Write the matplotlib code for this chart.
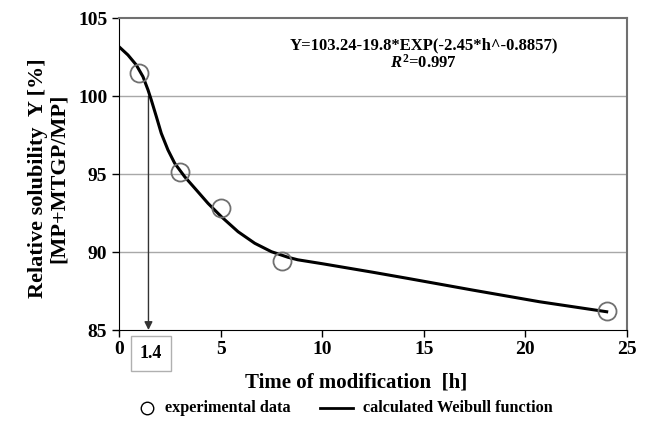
import matplotlib
matplotlib.use("Agg")
import matplotlib.pyplot as plt
from matplotlib.lines import Line2D

# Experimental points
exp_time = [1, 3, 5, 8, 24]
exp_solubility = [101.5, 95.15, 92.8, 89.45, 86.2]

# Calculated Weibull curve as drawn in the figure
fit_time = [0, 0.44, 0.85, 1.18, 1.43, 1.59, 1.84, 2.08, 2.41, 2.74, 3.23,
            3.81, 4.38, 5.04, 5.86, 6.68, 7.5, 8.32, 8.8, 10.0, 11.0, 12.5,
            14.2, 17.4, 20.7, 24]
fit_solubility = [103.16, 102.63, 101.99, 101.24, 100.38, 99.74, 98.67,
                  97.61, 96.54, 95.69, 94.83, 93.97, 93.12, 92.26, 91.3,
                  90.56, 90.02, 89.66, 89.5, 89.25, 89.03, 88.7, 88.31,
                  87.56, 86.81, 86.17]

x_ticks = [0, 5, 10, 15, 20, 25]
y_ticks = [85, 90, 95, 100, 105]

marker_time = 1.45
marker_label = "1.4"
equation = "Y=103.24-19.8*EXP(-2.45*h^-0.8857)"
r2_text = r"$R^{2}$=0.997"
legend_labels = ["experimental data", "calculated Weibull function"]

plt.rcParams['font.family'] = ['Liberation Serif', 'DejaVu Serif']
plt.rcParams['font.weight'] = 'bold'
plt.rcParams['mathtext.fontset'] = 'custom'
plt.rcParams['mathtext.rm'] = 'Liberation Serif:bold'
plt.rcParams['mathtext.it'] = 'Liberation Serif:italic:bold'

W, H = 646, 423
fig = plt.figure(figsize=(W / 100, H / 100), dpi=100)
ax = fig.add_axes([119 / W, 1 - 330 / H, (627 - 119) / W, (330 - 18) / H])

# grid
for y in y_ticks[1:-1]:
    ax.axhline(y, color='#a8a8a8', lw=1.0, zorder=0)

ax.plot(fit_time, fit_solubility, color='black', lw=2.2, zorder=3,
        solid_joinstyle='round')
ax.plot(exp_time, exp_solubility, 'o', ms=13, mfc='none', mec='#707070',
        mew=1.3, zorder=4)

# arrow at 1.4 h
ax.annotate('', xy=(marker_time, 85), xytext=(marker_time, 100),
            arrowprops=dict(arrowstyle='-|>', color='#333333', lw=1.0,
                            mutation_scale=12, shrinkA=0, shrinkB=0),
            zorder=2)

ax.text(15.0, 103.25, equation, ha='center', va='center', fontsize=12,
        fontweight='bold')
ax.text(15.0, 102.1, r2_text, ha='center', va='center', fontsize=12,
        fontweight='bold')

ax.set_xlim(0, 25)
ax.set_ylim(85, 105)
ax.set_xticks(x_ticks)
ax.set_yticks(y_ticks)
ax.tick_params(labelsize=14, direction='out', length=5, width=1.0)
ax.tick_params(axis='x', pad=3)
for lbl in ax.get_xticklabels() + ax.get_yticklabels():
    lbl.set_fontweight('bold')

ax.text(1.58, -0.075, marker_label, transform=ax.get_xaxis_transform(),
        ha='center', va='center', fontsize=13, fontweight='bold',
        bbox=dict(boxstyle='square,pad=0.5', fc='white', ec='#b0b0b0', lw=1.0))

ax.spines['left'].set_color('black')
ax.spines['bottom'].set_color('black')
ax.spines['top'].set_color('#707070')
ax.spines['right'].set_color('#707070')
ax.spines['top'].set_linewidth(1.5)
ax.spines['right'].set_linewidth(1.5)

ax.set_xlabel("Time of modification  [h]", fontsize=15, fontweight='bold')
ax.xaxis.set_label_coords(0.467, -0.135)
ax.set_ylabel("Relative solubility  Y [%]\n[MP+MTGP/MP]", fontsize=16,
              fontweight='bold', linespacing=1.1)
ax.yaxis.set_label_coords(-0.098, 0.487)

# legend drawn below the axes
ly = 1 - 408 / H
fig.add_artist(Line2D([147 / W], [ly], marker='o', ls='none', ms=9,
                      mfc='none', mec='black', mew=1.0,
                      transform=fig.transFigure))
fig.text(165 / W, ly, legend_labels[0], ha='left', va='center',
         fontsize=11.7, fontweight='bold')
fig.add_artist(Line2D([320 / W, 353 / W], [ly, ly], color='black', lw=2.0,
                      transform=fig.transFigure))
fig.text(363 / W, ly, legend_labels[1], ha='left', va='center',
         fontsize=11.7, fontweight='bold')

fig.savefig("out.png", dpi=100)
